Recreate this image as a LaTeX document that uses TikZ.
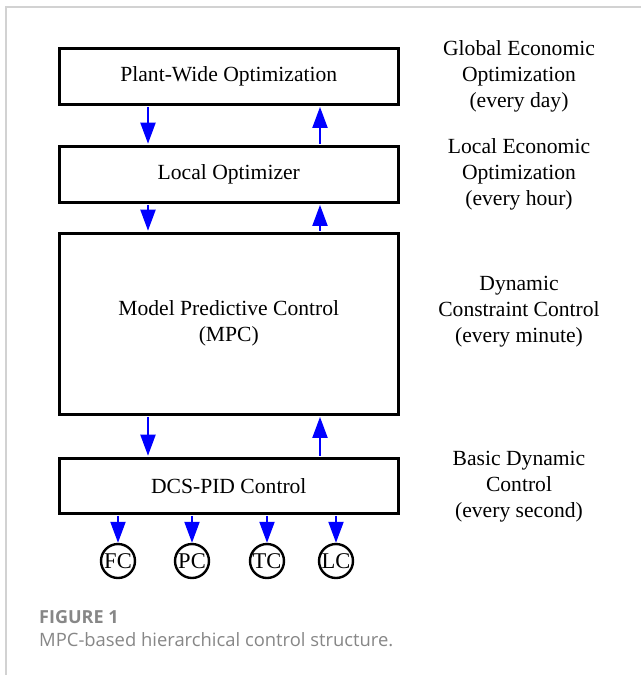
\documentclass[tikz,border=0pt]{standalone}
\usepackage{fontspec}
\setmainfont{Liberation Serif}
\newfontfamily\capfont{Open Sans}
\usetikzlibrary{arrows.meta}
\definecolor{cardgray}{RGB}{210,210,210}
\definecolor{capgray}{RGB}{135,135,135}
\begin{document}
\begin{tikzpicture}[x=1pt,y=-1pt,
  blk/.style={draw=black,line width=2.6pt,inner sep=0pt,anchor=north west},
  flow/.style={draw=blue,line width=2pt,-{Triangle[length=21pt,width=15pt]},shorten >=1.3pt,shorten <=1.3pt},
  ctl/.style={draw=black,circle,line width=2.4pt,minimum size=34pt,inner sep=0pt,font=\fontsize{22.5}{22.5}\selectfont},
  side/.style={align=center,font=\fontsize{21.6}{26}\selectfont},
  lbl/.style={font=\fontsize{21.6}{26}\selectfont,align=center}]
\useasboundingbox (0,0) rectangle (641,675);
\fill[white] (0,0) rectangle (641,675);
\draw[cardgray,line width=1.5pt] (6,675) -- (6,7) -- (641,7);
% boxes
\node[blk,minimum width=339pt,minimum height=56pt] (pwo) at (58,47) {};
\node[lbl] at (pwo.center) {Plant-Wide Optimization};
\node[blk,minimum width=339pt,minimum height=56pt] (lo) at (58,145) {};
\node[lbl] at (lo.center) {Local Optimizer};
\node[blk,minimum width=339pt,minimum height=181pt] (mpc) at (58,232) {};
\node[lbl] at (mpc.center) {Model Predictive Control\\(MPC)};
\node[blk,minimum width=339pt,minimum height=55pt] (dcs) at (58,457) {};
\node[lbl] at (dcs.center) {DCS-PID Control};
% controllers
\node[ctl] (fc) at (118,561) {\kern-1pt FC\kern-1pt};
\node[ctl] (pc) at (192,561) {\kern-1pt PC\kern-1pt};
\node[ctl] (tc) at (267,561) {\kern-1pt TC\kern-1pt};
\node[ctl] (lc) at (336,561) {\kern-1pt LC\kern-1pt};
% arrows
\coordinate (xl) at (148,0);
\coordinate (xr) at (320,0);
\draw[flow] (pwo.south -| xl) -- (lo.north -| xl);
\draw[flow] (lo.north -| xr) -- (pwo.south -| xr);
\draw[flow] (lo.south -| xl) -- (mpc.north -| xl);
\draw[flow] (mpc.north -| xr) -- (lo.south -| xr);
\draw[flow] (mpc.south -| xl) -- (dcs.north -| xl);
\draw[flow] (dcs.north -| xr) -- (mpc.south -| xr);
\draw[flow,shorten >=0pt] (fc |- dcs.south) -- (fc.north);
\draw[flow,shorten >=0pt] (pc |- dcs.south) -- (pc.north);
\draw[flow,shorten >=0pt] (tc |- dcs.south) -- (tc.north);
\draw[flow,shorten >=0pt] (lc |- dcs.south) -- (lc.north);
% side texts
\node[side] (t1) at (519,76) {Global Economic\\Optimization\\(every day)};
\node[side] (t2) at (519,174) {Local Economic\\Optimization\\(every hour)};
\node[side] (t3) at (519,312) {Dynamic\\Constraint Control\\(every minute)};
\node[side] (t4) at (519,487) {Basic Dynamic\\Control\\(every second)};
% caption
\node[anchor=base west,inner sep=0pt,text=capgray,font=\capfont\bfseries\fontsize{18}{18}\selectfont] (cap1) at (39,623) {FIGURE 1};
\node[anchor=base west,inner sep=0pt,text=capgray,font=\capfont\fontsize{18.4}{18}\selectfont] (cap2) at (39,646) {MPC-based hierarchical control structure.};
\end{tikzpicture}
\end{document}
